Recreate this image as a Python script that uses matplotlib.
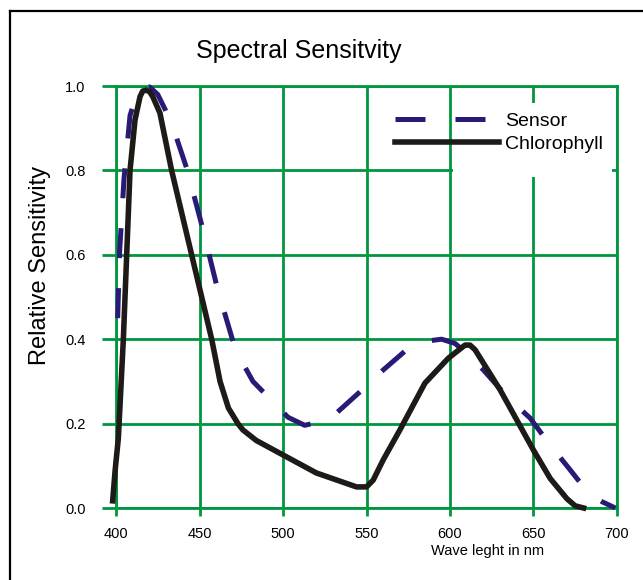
import matplotlib
matplotlib.use("Agg")
import matplotlib.pyplot as plt
from matplotlib.lines import Line2D
from matplotlib.patches import Rectangle

plt.rcParams['font.family'] = ['Liberation Sans', 'DejaVu Sans']

# wavelength (nm) and relative sensitivity
sensor_nm = [401, 402.2, 404.8, 408.4, 412, 416, 420, 425, 429.6, 436, 442.5, 452, 460.8,
             471.6, 482, 493.4, 503, 513, 523, 532, 546, 560, 574, 585, 595, 603, 612,
             620, 635, 648, 659, 671, 683, 691, 699]
sensor_val = [0.45, 0.61, 0.78, 0.93, 0.975, 0.995, 0.998, 0.98, 0.943, 0.88, 0.803, 0.661,
              0.519, 0.374, 0.30, 0.254, 0.215, 0.196, 0.205, 0.225, 0.275, 0.327, 0.375,
              0.395, 0.40, 0.39, 0.36, 0.327, 0.26, 0.213, 0.154, 0.095, 0.035, 0.015, 0.0]

chl_nm = [398, 399.5, 401.4, 404.4, 406.4, 408.4, 411.4, 414.4, 416, 418, 420, 422, 426.3,
          433.3, 439.3, 445.3, 451.3, 457.3, 462.3, 467.3, 473, 476, 484, 498, 520, 544,
          550, 554, 560, 570, 585, 599, 609, 612, 615, 630, 650, 660, 670, 675, 680]
chl_val = [0.017, 0.09, 0.165, 0.40, 0.60, 0.80, 0.92, 0.975, 0.988, 0.99, 0.987, 0.975,
           0.936, 0.80, 0.70, 0.60, 0.50, 0.40, 0.30, 0.237, 0.20, 0.185, 0.16, 0.13,
           0.083, 0.05, 0.05, 0.066, 0.114, 0.185, 0.296, 0.355, 0.386, 0.386, 0.375,
           0.28, 0.137, 0.07, 0.022, 0.005, 0.0]

x_ticks = [400, 450, 500, 550, 600, 650, 700]
y_ticks = [0.0, 0.2, 0.4, 0.6, 0.8, 1.0]

green = '#00963f'
navy = '#2a1a78'
black = '#1e1a17'

W, H = 643, 580
fig = plt.figure(figsize=(W / 100, H / 100), dpi=100)
ax = fig.add_axes([116 / W, 1 - 508 / H, (617 - 116) / W, (508 - 86) / H])

ax.plot(sensor_nm, sensor_val, color=navy, lw=3.6, linestyle=(0, (6, 6)),
        label='Sensor', clip_on=False, zorder=3)
ax.plot(chl_nm, chl_val, color=black, lw=4, label='Chlorophyll',
        solid_joinstyle='round', clip_on=False, zorder=4)

ax.set_xlim(400, 700)
ax.set_ylim(0, 1)
ax.set_xticks(x_ticks)
ax.set_yticks(y_ticks)
ax.set_yticklabels([f'{v:.1f}' for v in y_ticks])
ax.set_axisbelow(True)
ax.grid(True, color=green, lw=2)
for s in ax.spines.values():
    s.set_color(green)
    s.set_linewidth(2)
ax.tick_params(axis='y', color=green, width=2, length=10, pad=12, labelsize=10.5)
ax.tick_params(axis='x', color=green, width=2, length=6, pad=8, labelsize=10.5)

# white patch behind legend text
ax.add_patch(Rectangle((0.673, 0.784), 0.317, 0.176, transform=ax.transAxes,
                       facecolor='white', edgecolor='none', zorder=1))
ax.legend(loc='upper left', bbox_to_anchor=(0.557, 0.938), frameon=False, fontsize=14,
          handlelength=5.35, handletextpad=0.31, labelspacing=0.3,
          borderpad=0, borderaxespad=0)

fig.text(299 / W, 1 - 51 / H, 'Spectral Sensitvity', ha='center', va='center', fontsize=18)
fig.text(40 / W, 1 - 265 / H, 'Relative Sensitivity', ha='center', va='center',
         rotation=90, fontsize=17)
fig.text(488 / W, 1 - 551 / H, 'Wave leght in nm', ha='center', va='center', fontsize=10.5)

# page frame (top and left edges)
fig.add_artist(Line2D([10 / W, 1], [1 - 11 / H, 1 - 11 / H], color='black', lw=1.6))
fig.add_artist(Line2D([10 / W, 10 / W], [0, 1 - 11 / H], color='black', lw=1.6))

fig.savefig('out.png', dpi=100)
